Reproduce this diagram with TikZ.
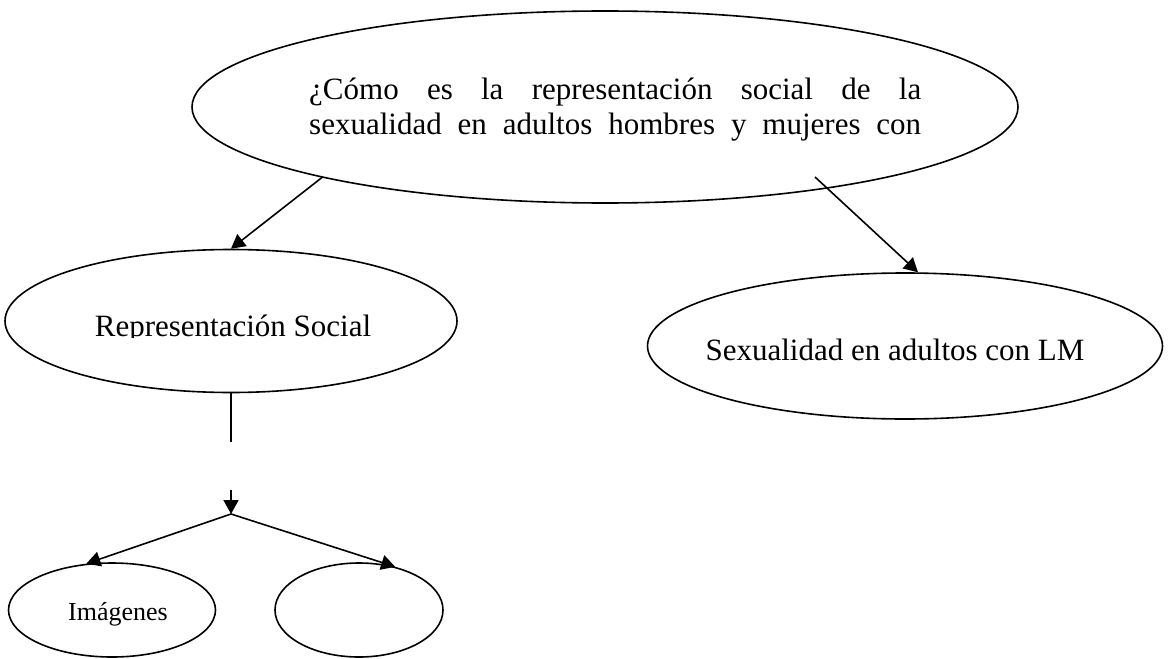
\documentclass[tikz,border=0pt]{standalone}
\usepackage{fontspec}
\setmainfont{Liberation Serif}
\usetikzlibrary{shapes.geometric,arrows.meta}

\begin{document}
\begin{tikzpicture}[x=1pt,y=-1pt,
    oval/.style={draw,ellipse,line width=1.6pt,inner sep=0pt},
    txt/.style={inner sep=0pt,font=\fontsize{31}{35}\selectfont},
    arr/.style={line width=1.6pt,-{Triangle[length=14pt,width=15pt]}},
   ]
   \useasboundingbox (0,0) rectangle (1174,658);
   \path (605,107) node[oval,minimum width=826pt,minimum height=192pt] (q){}
     (231,321) node[oval,minimum width=452pt,minimum height=143pt] (rs){}
     (905,346) node[oval,minimum width=515pt,minimum height=146pt] (sx){}
     (112,610) node[oval,minimum width=207pt,minimum height=94pt] (im){}
     (359,610) node[oval,minimum width=168pt,minimum height=94pt] (ot){};
   % text of the question, last baseline at the anchor
   \node[txt,anchor=base west,align=left] (qt) at (309,135)
     {\makebox[612pt][s]{¿Cómo es la representación social de la}\\
      \makebox[612pt][s]{sexualidad en adultos hombres y mujeres con}};
   \begin{scope}
     \clip (0,0) rectangle (1174,337);
     \node[txt,anchor=base] (rst) at (233,336) {Representación Social};
   \end{scope}
   \node[txt,anchor=base] (sxt) at (895,360) {Sexualidad en adultos con LM};
   \node[txt,anchor=base,font=\fontsize{26}{30}\selectfont] (imt) at (118,620) {Imágenes};
   \coordinate (qr) at (815,177);
   \coordinate (g1) at (231,442);
   \coordinate (g2) at (231,490);
   \coordinate (hub) at (231,514);
   \draw[arr] (q.194) -- (rs.north);
   \draw[arr] (qr) -- (sx.80);
   \draw[line width=1.6pt] (rs.south) -- (g1);
   \draw[arr] (g2) -- (hub);
   \draw[arr] (hub) -- (im.119);
   \draw[arr] (hub) -- (ot.50);
\end{tikzpicture}
\end{document}
